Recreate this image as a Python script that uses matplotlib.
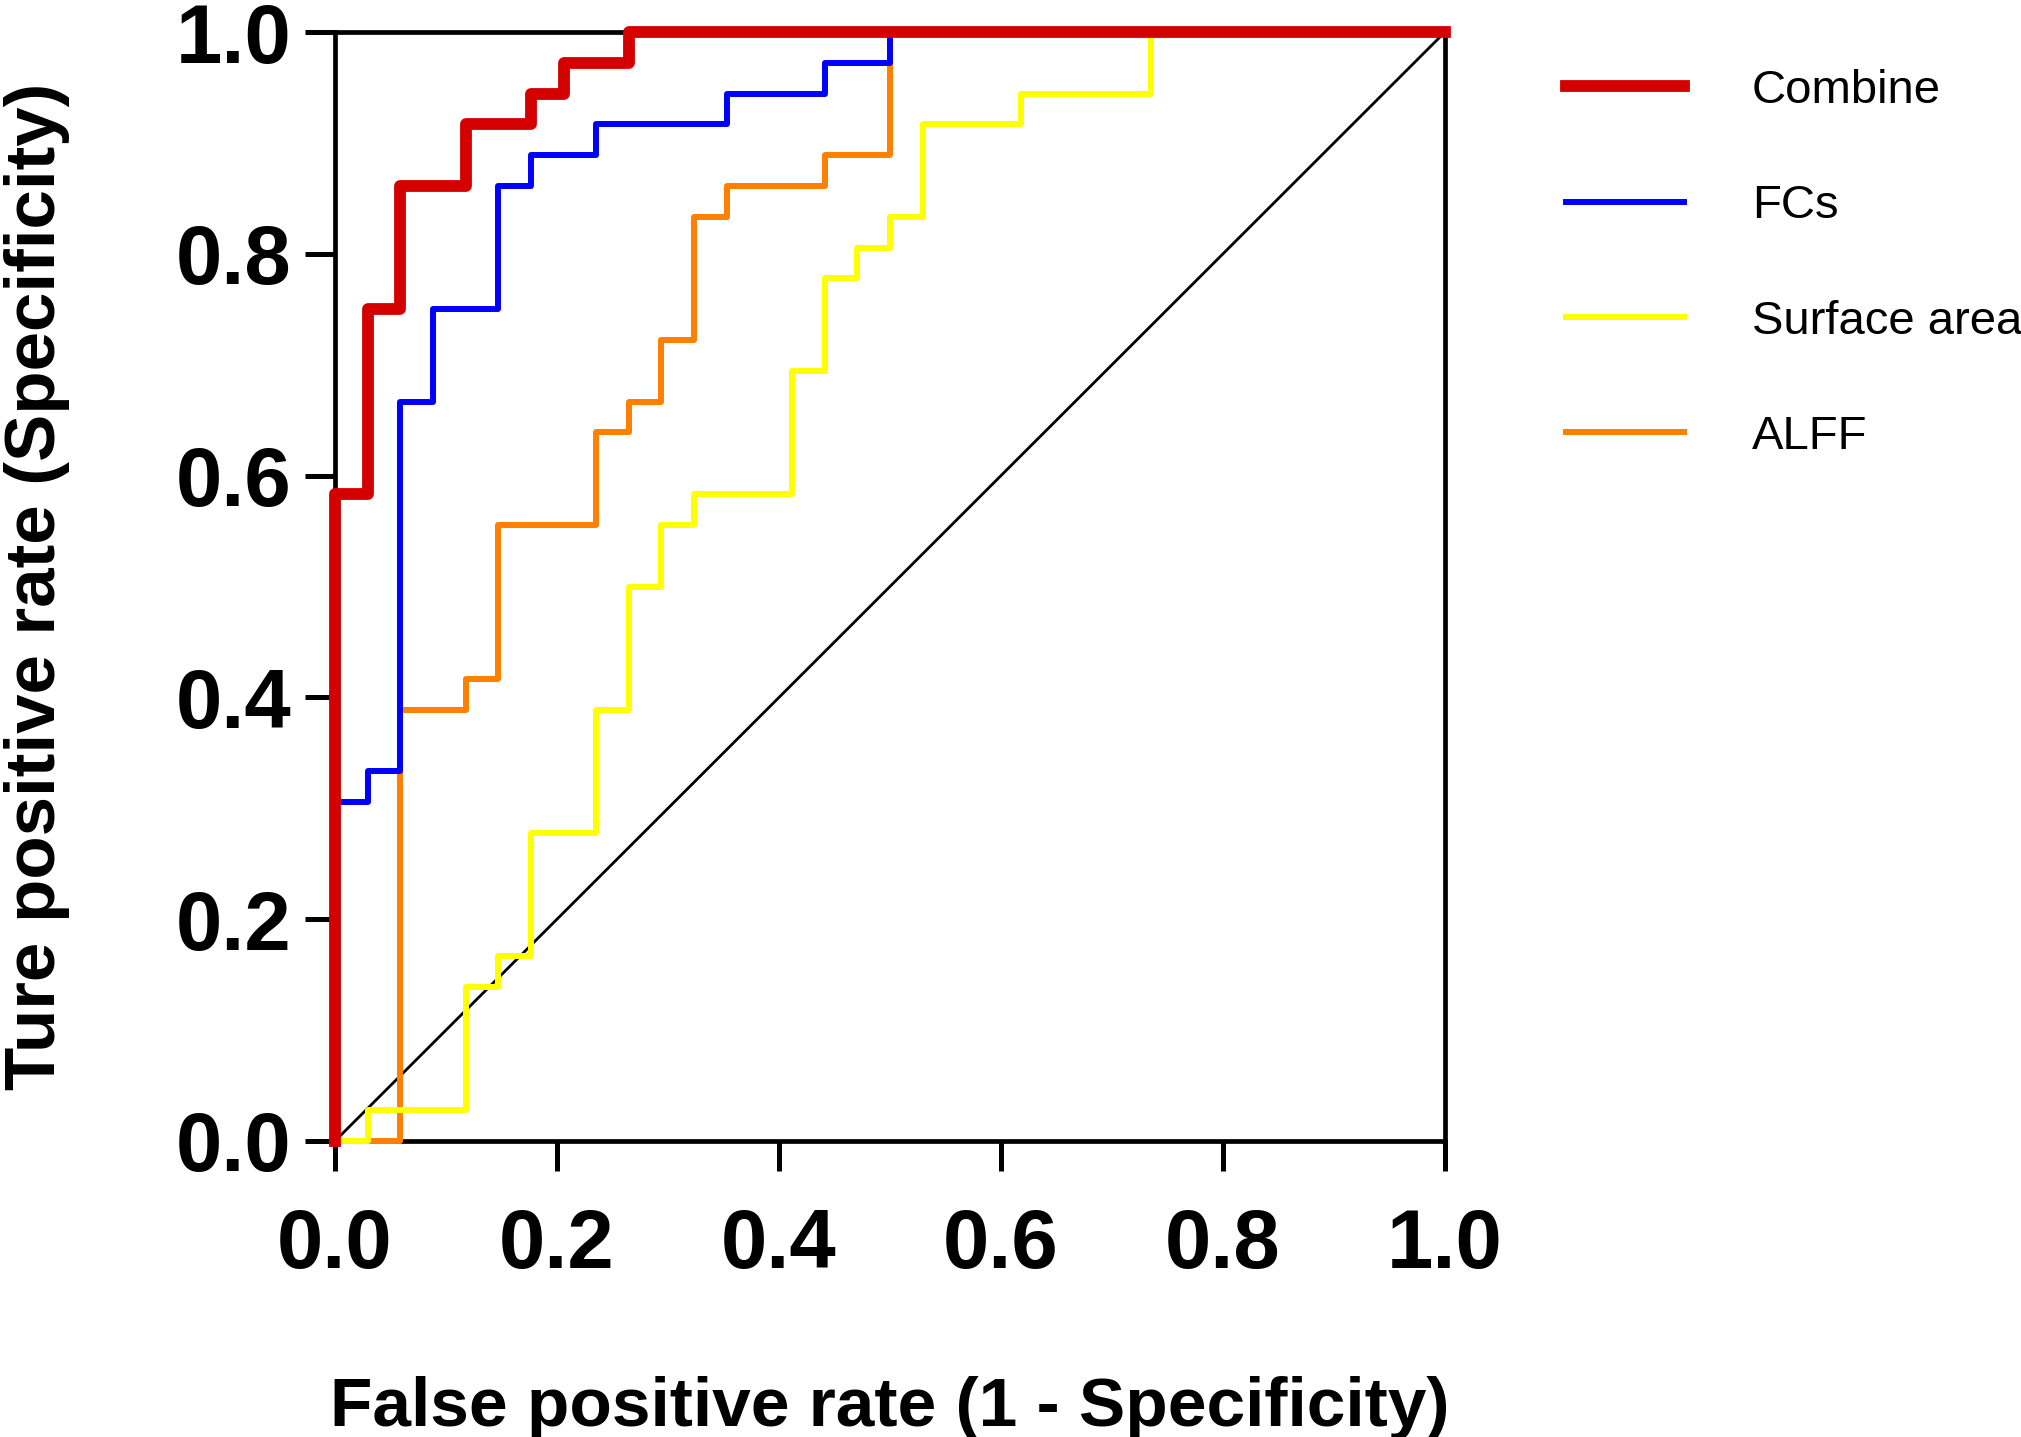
import matplotlib
matplotlib.use("Agg")
import matplotlib.pyplot as plt

plt.rcParams['font.family'] = ['Liberation Sans', 'DejaVu Sans']

# ROC corner points (false positive rate, true positive rate)
combine_fpr = [0.0, 0.0, 0.0294, 0.0588, 0.1176, 0.1765, 0.2059, 0.2647, 1.0]
combine_tpr = [0.0, 0.5833, 0.7500, 0.8611, 0.9167, 0.9444, 0.9722, 1.0, 1.0]

fcs_fpr = [0.0, 0.0, 0.0294, 0.0588, 0.0882, 0.1471, 0.1765, 0.2353, 0.3529, 0.4412, 0.5, 1.0]
fcs_tpr = [0.0, 0.3056, 0.3333, 0.6667, 0.7500, 0.8611, 0.8889, 0.9167, 0.9444, 0.9722, 1.0, 1.0]

surf_fpr = [0.0, 0.0294, 0.1176, 0.1471, 0.1765, 0.2353, 0.2647, 0.2941, 0.3235, 0.4118,
            0.4412, 0.4706, 0.5, 0.5294, 0.6176, 0.7353, 1.0]
surf_tpr = [0.0, 0.0278, 0.1389, 0.1667, 0.2778, 0.3889, 0.5000, 0.5556, 0.5833, 0.6944,
            0.7778, 0.8056, 0.8333, 0.9167, 0.9444, 1.0, 1.0]

alff_fpr = [0.0, 0.0588, 0.1176, 0.1471, 0.2353, 0.2647, 0.2941, 0.3235, 0.3529, 0.4412, 0.5, 1.0]
alff_tpr = [0.0, 0.3889, 0.4167, 0.5556, 0.6389, 0.6667, 0.7222, 0.8333, 0.8611, 0.8889, 1.0, 1.0]

ref_x = [0.0, 1.0]
ref_y = [0.0, 1.0]

tick_vals = [0.0, 0.2, 0.4, 0.6, 0.8, 1.0]
tick_labels = ["0.0", "0.2", "0.4", "0.6", "0.8", "1.0"]

W, H = 2021, 1437
fig = plt.figure(figsize=(W / 100, H / 100), dpi=100)
L, R, T, B = 335, 1445, 32, 1141
ax = fig.add_axes([L / W, 1 - B / H, (R - L) / W, (B - T) / H])

ax.plot(ref_x, ref_y, color='black', lw=2.0, zorder=3, clip_on=False)
ax.plot(alff_fpr, alff_tpr, drawstyle='steps-post', color='#FF8000', lw=4.3,
        label='ALFF', zorder=4, clip_on=False)
ax.plot(surf_fpr, surf_tpr, drawstyle='steps-post', color='#FFFF00', lw=4.3,
        label='Surface area', zorder=4, clip_on=False)
ax.plot(fcs_fpr, fcs_tpr, drawstyle='steps-post', color='#0000FF', lw=4.3,
        label='FCs', zorder=5, clip_on=False)
ax.plot(combine_fpr, combine_tpr, drawstyle='steps-post', color='#D40000', lw=8.5,
        label='Combine', zorder=6, clip_on=False)

ax.set_xlim(0, 1)
ax.set_ylim(0, 1)
for s in ax.spines.values():
    s.set_linewidth(3.4)
    s.set_zorder(2)

ax.set_xticks(tick_vals)
ax.set_xticklabels(tick_labels)
ax.set_yticks(tick_vals)
ax.set_yticklabels(tick_labels)
ax.tick_params(axis='both', direction='out', length=21.5, width=3.6, labelsize=60)
ax.tick_params(axis='x', pad=26)
ax.tick_params(axis='y', pad=10)
for lab in ax.get_xticklabels() + ax.get_yticklabels():
    lab.set_fontweight('bold')

ax.set_xlabel('False positive rate (1 - Specificity)', fontsize=50, fontweight='bold')
ax.set_ylabel('Ture positive rate (Specificity)', fontsize=51, fontweight='bold')
ax.xaxis.set_label_coords(0.5, -0.212)
ax.yaxis.set_label_coords(-0.2385, 0.5)

handles, labels = ax.get_legend_handles_labels()
order = ['Combine', 'FCs', 'Surface area', 'ALFF']
hmap = dict(zip(labels, handles))
leg = ax.legend([hmap[k] for k in order], order, loc='upper left',
                bbox_to_anchor=(1566 / W, 1 - 69 / H), bbox_transform=fig.transFigure,
                frameon=False, fontsize=34, handlelength=2.5, handletextpad=1.44,
                labelspacing=1.51, borderpad=0, borderaxespad=0)

fig.savefig('out.png', dpi=100)
